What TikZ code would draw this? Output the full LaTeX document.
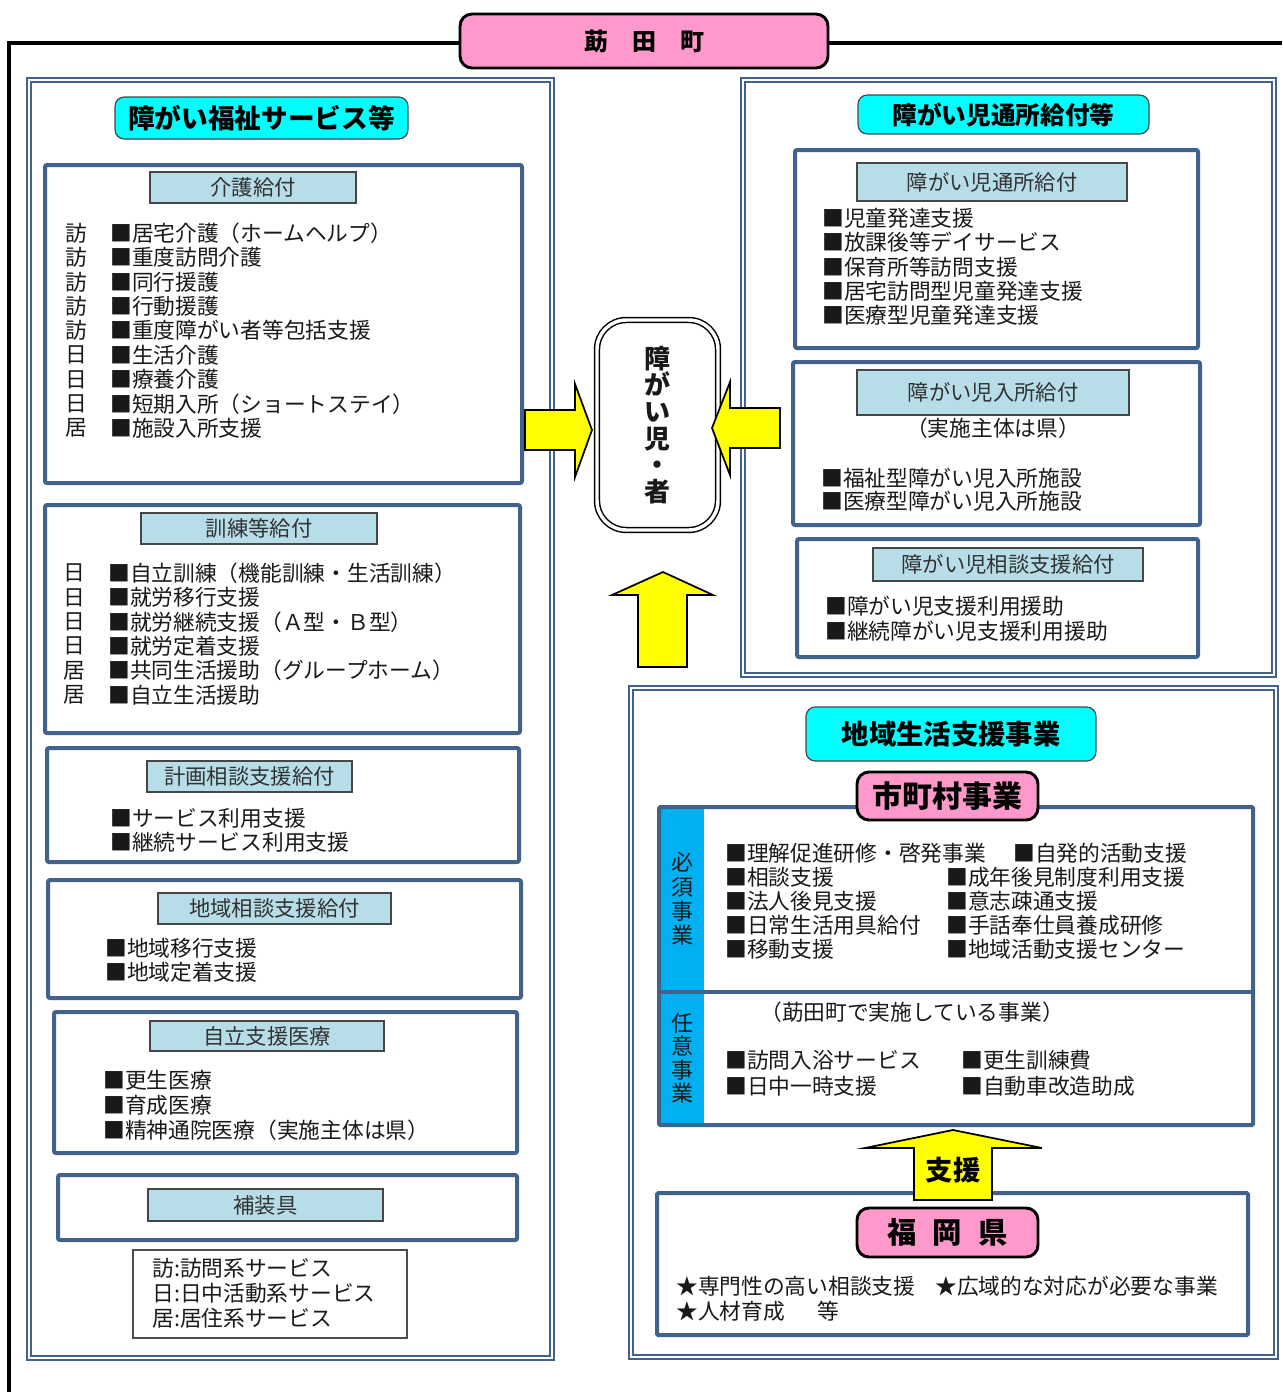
\documentclass[tikz,border=0pt]{standalone}
\usepackage{fontspec}
\setmainfont{Noto Sans CJK JP}
\usetikzlibrary{fit}
\definecolor{bluegray}{RGB}{65,98,140}
\definecolor{lightblue}{RGB}{183,221,232}
\definecolor{cyanfill}{RGB}{0,255,255}
\definecolor{pinkfill}{RGB}{255,153,204}
\definecolor{colblue}{RGB}{0,176,240}
\definecolor{yellowfill}{RGB}{255,255,0}
\definecolor{txt}{RGB}{25,25,25}
\definecolor{lbltxt}{RGB}{50,50,50}
\begin{document}
\begin{tikzpicture}[x=0.75pt,y=-0.75pt,
  panel/.style={draw=bluegray, line width=0.9pt, double=white, double distance=2pt, inner sep=0pt},
  subbox/.style={draw=bluegray, line width=3pt, rounded corners=1.5pt, fill=white, inner sep=0pt},
  lbl/.style={draw=gray!55!black, line width=0.9pt, fill=lightblue, inner sep=0pt},
  lbltext/.style={inner sep=0pt, text=lbltxt, font=\fontsize{16}{18}\selectfont},
  hdr/.style={draw=gray!55!black, fill=cyanfill, rounded corners=7pt, line width=0.9pt, inner sep=0pt},
  pinkbox/.style={draw=black, line width=2.2pt, fill=pinkfill, rounded corners=9pt, inner sep=0pt},
  boldtext/.style={inner sep=0pt, text=black, font=\fontsize{#1}{#1}\bfseries},
  itm/.style={anchor=west, inner sep=0pt, text=txt, font=\fontsize{16.3}{18}\selectfont},
  vtext/.style={align=center, inner sep=0pt, text=txt},
  yarrow/.style={draw=black, line width=1.3pt, fill=yellowfill, line join=miter},
  frameline/.style={draw=black, line width=3pt}
]
\useasboundingbox (0,0) rectangle (1282,1392);

% outer frame
\coordinate (fbl) at (9,1392);
\coordinate (ftl) at (9,43);
\coordinate (ftr) at (1282,43);
\draw[frameline] (fbl) -- (ftl) -- (ftr);

% title
\node[pinkbox, fit={(460,14)(828,68)}] (town) {};
\node[boldtext=18] (towntext) at (town.center) {莇　田　町};

% panels
\node[panel, fit={(29,80)(552,1358)}] (leftpanel) {};
\node[panel, fit={(743,80)(1274,675)}] (rtpanel) {};
\node[panel, fit={(631,688)(1276,1357)}] (rbpanel) {};

% headers
\node[hdr, fit={(115,97)(408,139)}] (lhdr) {};
\node[boldtext=20] (lhdrtext) at (lhdr.center) {障がい福祉サービス等};
\node[hdr, fit={(858,95)(1149,134)}] (rhdr) {};
\node[boldtext=18.5] (rhdrtext) at (rhdr.center) {障がい児通所給付等};
\node[hdr, fit={(806,707)(1096,761)}] (chdr) {};
\node[boldtext=20.5] (chdrtext) at (chdr.center) {地域生活支援事業};

% ---- left sub boxes
\node[subbox, fit={(45,165)(522,483)}] (kaigo) {};
\node[lbl, fit={(150,172)(356,203)}] (kaigolbl) {};
\node[lbltext] (kaigolbltext) at (kaigolbl.center) {介護給付};
\foreach \p/\t [count=\i from 0] in {訪/居宅介護（ホームヘルプ）, 訪/重度訪問介護, 訪/同行援護, 訪/行動援護, 訪/重度障がい者等包括支援, 日/生活介護, 日/療養介護, 日/短期入所（ショートステイ）, 居/施設入所支援}{
  \node[itm] (kaigop\i) at (65,{233+\i*24.4}) {\p};
  \node[itm] (kaigoi\i) at (110,{233+\i*24.4}) {■\t};
}

\node[subbox, fit={(45,505)(520,733)}] (kunren) {};
\node[lbl, fit={(141,513)(377,544)}] (kunrenlbl) {};
\node[lbltext] (kunrenlbltext) at (kunrenlbl.center) {訓練等給付};
\foreach \p/\t [count=\i from 0] in {日/自立訓練（機能訓練・生活訓練）, 日/就労移行支援, 日/就労継続支援（Ａ型・Ｂ型）, 日/就労定着支援, 居/共同生活援助（グループホーム）, 居/自立生活援助}{
  \node[itm] (kunrenp\i) at (63,{573+\i*24.4}) {\p};
  \node[itm] (kunreni\i) at (108,{573+\i*24.4}) {■\t};
}

\node[subbox, fit={(47,748)(519,862)}] (keikaku) {};
\node[lbl, fit={(147,761)(352,792)}] (keikakulbl) {};
\node[lbltext] (keikakulbltext) at (keikakulbl.center) {計画相談支援給付};
\node[itm] (keikaku1) at (110,818) {■サービス利用支援};
\node[itm] (keikaku2) at (110,842) {■継続サービス利用支援};

\node[subbox, fit={(48,880)(521,998)}] (chiiki) {};
\node[lbl, fit={(158,893)(391,924)}] (chiikilbl) {};
\node[lbltext] (chiikilbltext) at (chiikilbl.center) {地域相談支援給付};
\node[itm] (chiiki1) at (105,948) {■地域移行支援};
\node[itm] (chiiki2) at (105,972) {■地域定着支援};

\node[subbox, fit={(54,1012)(517,1153)}] (iryo) {};
\node[lbl, fit={(150,1021)(384,1051)}] (iryolbl) {};
\node[lbltext] (iryolbltext) at (iryolbl.center) {自立支援医療};
\node[itm] (iryo1) at (103,1080) {■更生医療};
\node[itm] (iryo2) at (103,1105) {■育成医療};
\node[itm] (iryo3) at (103,1130) {■精神通院医療（実施主体は県）};

\node[subbox, fit={(58,1175)(517,1240)}] (hosougu) {};
\node[lbl, fit={(148,1189)(383,1221)}] (hosougulbl) {};
\node[lbltext] (hosougulbltext) at (hosougulbl.center) {補装具};

\node[draw=gray!60!black, line width=0.9pt, fit={(133,1250)(407,1338)}, inner sep=0pt] (legend) {};
\node[itm] (leg1) at (152,1268) {訪:訪問系サービス};
\node[itm] (leg2) at (152,1293) {日:日中活動系サービス};
\node[itm] (leg3) at (152,1318) {居:居住系サービス};

% ---- right top sub boxes
\node[subbox, fit={(795,150)(1198,348)}] (tsusho) {};
\node[lbl, fit={(857,163)(1127,201)}] (tsusholbl) {};
\node[lbltext] (tsusholbltext) at (tsusholbl.center) {障がい児通所給付};
\foreach \t [count=\i from 0] in {児童発達支援, 放課後等デイサービス, 保育所等訪問支援, 居宅訪問型児童発達支援, 医療型児童発達支援}{
  \node[itm] (tsushoi\i) at (822,{218+\i*24.4}) {■\t};
}

\node[subbox, fit={(793,362)(1200,525)}] (nyusho) {};
\node[lbl, fit={(857,370)(1129,415)}] (nyusholbl) {};
\node[lbltext] (nyusholbltext) at (nyusholbl.center) {障がい児入所給付};
\node[itm, anchor=center] (nyushonote) at (993,428) {（実施主体は県）};
\node[itm] (nyusho1) at (821,478) {■福祉型障がい児入所施設};
\node[itm] (nyusho2) at (821,501) {■医療型障がい児入所施設};

\node[subbox, fit={(797,539)(1198,657)}] (soudan) {};
\node[lbl, fit={(873,548)(1143,581)}] (soudanlbl) {};
\node[lbltext] (soudanlbltext) at (soudanlbl.center) {障がい児相談支援給付};
\node[itm] (soudan1) at (825,606) {■障がい児支援利用援助};
\node[itm] (soudan2) at (825,631) {■継続障がい児支援利用援助};

% ---- municipal box
\fill[colblue] (659,807) rectangle (704,1125);
\node[subbox, fill=none, rounded corners=1pt, fit={(659,807)(1253,1125)}] (muni) {};
\coordinate (divl) at (659,992);
\coordinate (divr) at (1253,992);
\draw[draw=bluegray, line width=3pt] (divl) -- (divr);
\node[vtext, font=\fontsize{16.5}{18.2}\selectfont] (hissu) at (682,899) {必\\須\\事\\業};
\node[vtext, font=\fontsize{16.5}{17.6}\selectfont] (nini) at (682,1058) {任\\意\\事\\業};

\foreach \t [count=\i from 0] in {理解促進研修・啓発事業, 相談支援, 法人後見支援, 日常生活用具給付, 移動支援}{
  \node[itm] (hcol1i\i) at (725,{853+\i*24.1}) {■\t};
}
\node[itm] (hcol2i0) at (1013,853) {■自発的活動支援};
\foreach \t [count=\i from 1] in {成年後見制度利用支援, 意志疎通支援, 手話奉仕員養成研修, 地域活動支援センター}{
  \node[itm] (hcol2i\i) at (946,{853+\i*24.1}) {■\t};
}
\node[itm] (nininote) at (760,1012) {（莇田町で実施している事業）};
\node[itm] (nini1) at (725,1060) {■訪問入浴サービス};
\node[itm] (nini2) at (725,1086) {■日中一時支援};
\node[itm] (nini3) at (961,1060) {■更生訓練費};
\node[itm] (nini4) at (961,1086) {■自動車改造助成};

\node[pinkbox, fit={(857,772)(1038,820)}] (muniname) {};
\node[boldtext=22.5] (muninametext) at (muniname.center) {市町村事業};

% ---- prefecture box
\node[subbox, rounded corners=1pt, fit={(657,1193)(1248,1335)}] (pref) {};
\node[itm] (star1) at (676,1286) {★専門性の高い相談支援};
\node[itm] (star2) at (935,1286) {★広域的な対応が必要な事業};
\node[itm] (star3) at (676,1311) {★人材育成\hspace{1.5em}等};
\node[pinkbox, fit={(857,1208)(1038,1257)}] (prefname) {};
\node[boldtext=22] (prefnametext) at (prefname.center) {福\hspace{0.55em}岡\hspace{0.55em}県};

% support arrow
\draw[yarrow] (914,1200) -- (914,1148) -- (865,1148) -- (953,1130) -- (1042,1148) -- (992,1148) -- (992,1200) -- cycle;
\node[boldtext=20.5] (shien) at (953,1170) {支援};

% ---- center
\node[draw=black, line width=1.1pt, double=white, double distance=2.6pt, rounded corners=22pt, fill=white, fit={(597,320)(718,530)}, inner sep=0pt] (person) {};
\node[vtext, font=\fontsize{19.5}{20}\bfseries] (personlbl) at (person.center) {障\\が\\い\\児\\・\\者};

\draw[yarrow] (525,410) -- (575,410) -- (575,384) -- (592,430) -- (575,477) -- (575,450) -- (525,450) -- cycle;
\draw[yarrow] (780,408) -- (730,408) -- (730,382) -- (712,428) -- (730,475) -- (730,448) -- (780,448) -- cycle;
\draw[yarrow] (638,667) -- (638,595) -- (612,595) -- (663,572) -- (713,595) -- (687,595) -- (687,667) -- cycle;
\end{tikzpicture}
\end{document}
